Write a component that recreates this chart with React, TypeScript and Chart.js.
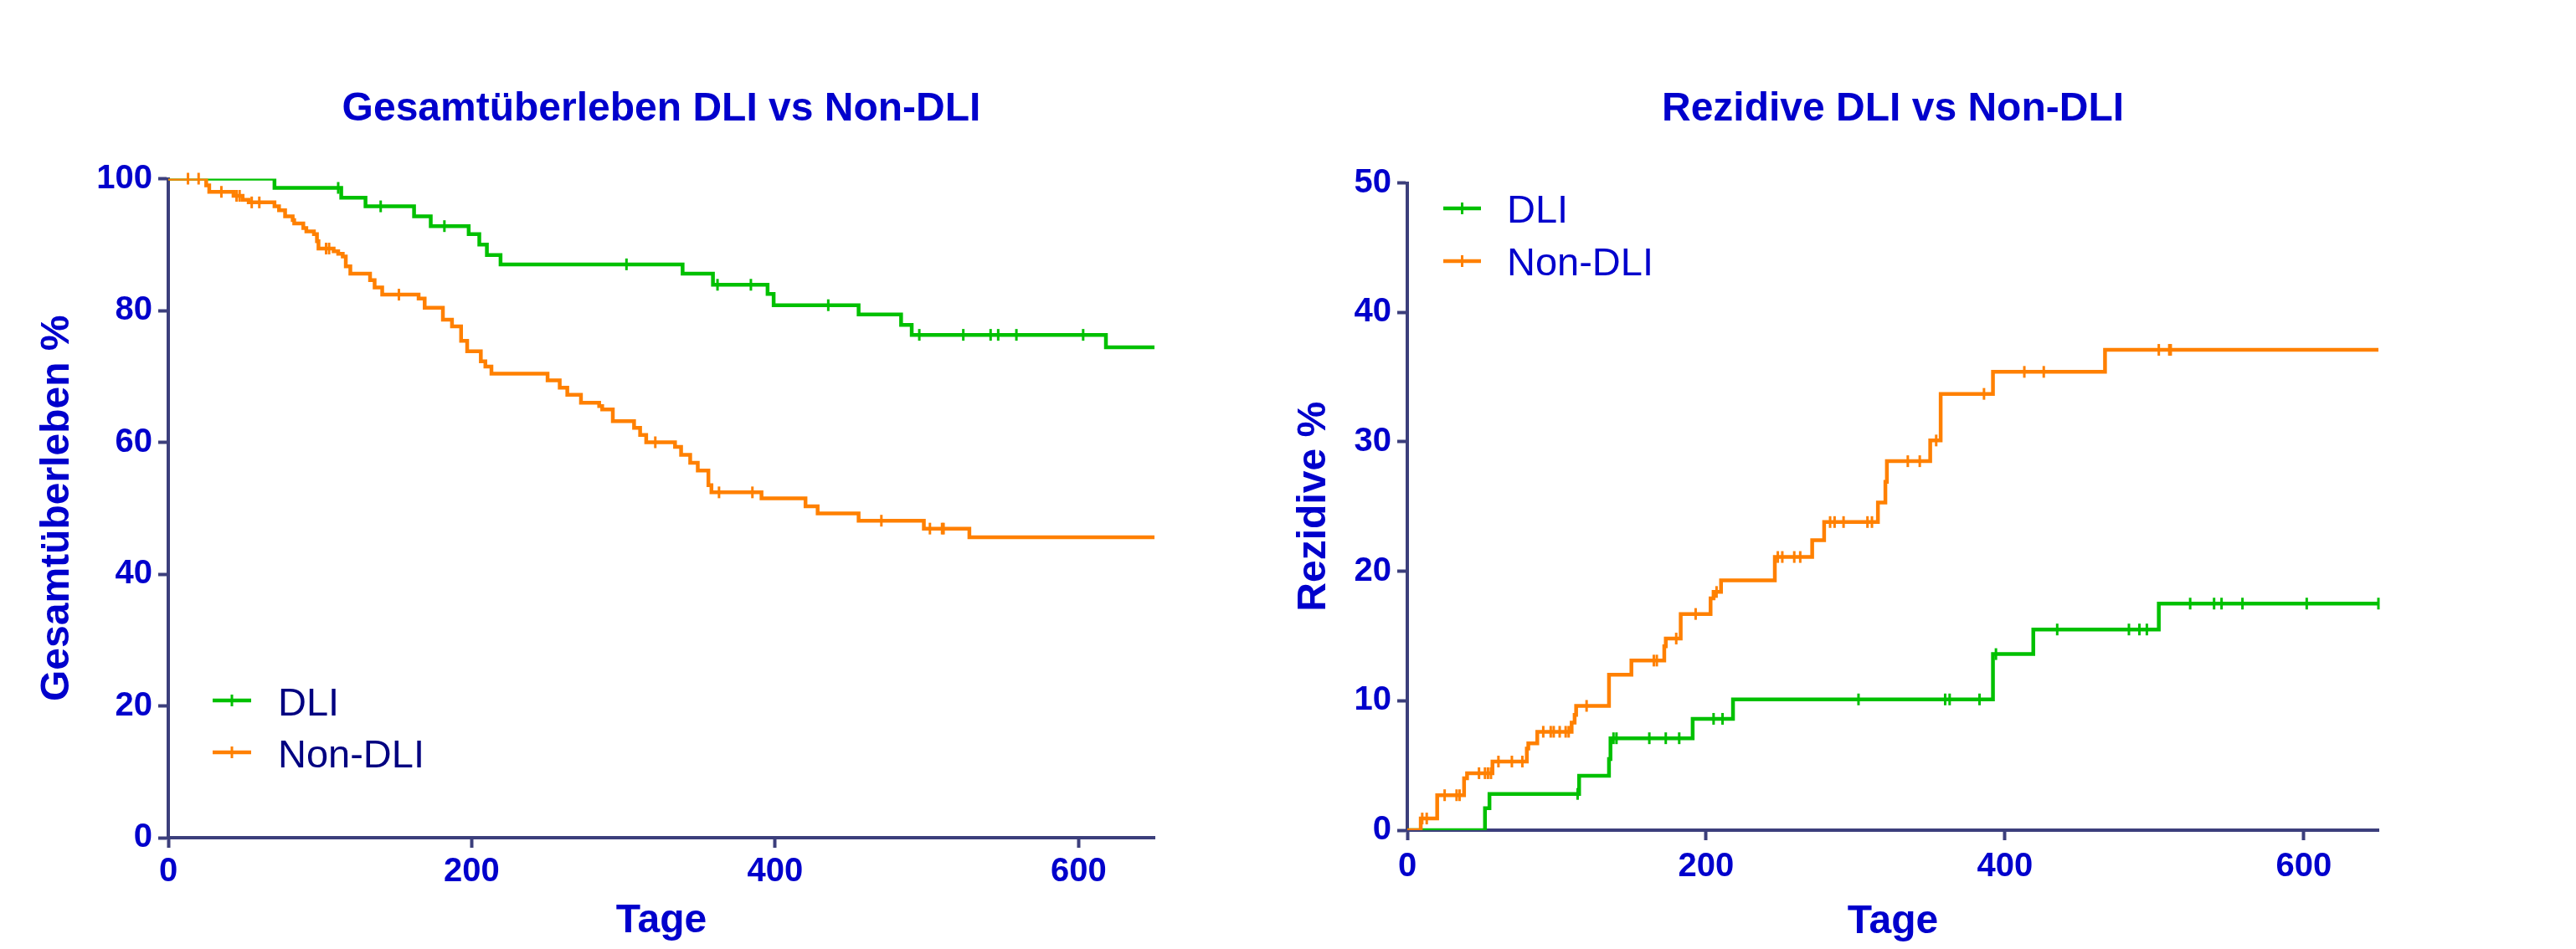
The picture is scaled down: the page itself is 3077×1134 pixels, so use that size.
import React, { useEffect, useRef } from 'react';
import { Chart, registerables } from 'chart.js';

Chart.register(...registerables);

// ---------------- data ----------------
const dayTicks = [0, 200, 400, 600];
const dayMax = 650;
const osPctTicks = [0, 20, 40, 60, 80, 100];
const relPctTicks = [0, 10, 20, 30, 40, 50];
const seriesNames = ['DLI', 'Non-DLI'];

// Gesamtüberleben (overall survival, %)
const osDliEventDays = [70, 114, 130, 162, 173, 198, 205, 210, 219, 339, 359, 395, 399, 455, 483, 490, 618];
const osDliSurvival = [98.6, 97.1, 95.8, 94.3, 92.8, 91.6, 90.0, 88.4, 87.0, 85.6, 83.9, 82.5, 80.8, 79.4, 77.8, 76.3, 74.4];
const osDliCensorDays = [112, 140, 182, 302, 362, 384, 435, 495, 524, 542, 547, 559, 603];

const osNonEventDays = [25, 27, 43, 49, 53, 70, 73, 77, 82, 83, 89, 91, 96, 98, 99, 109, 112, 115, 117, 120, 133, 136, 141, 165, 169, 181, 187, 193, 197, 206, 209, 213, 250, 258, 263, 272, 284, 286, 293, 307, 311, 315, 334, 338, 344, 349, 356, 358, 391, 420, 428, 455, 498, 528];
const osNonSurvival = [99.0, 98.0, 97.4, 96.8, 96.4, 95.8, 95.2, 94.3, 93.7, 93.2, 92.5, 92.0, 91.6, 90.5, 89.4, 89.0, 88.6, 88.2, 86.7, 85.6, 84.6, 83.5, 82.4, 81.8, 80.4, 78.6, 77.6, 75.4, 73.8, 72.3, 71.5, 70.4, 69.4, 68.3, 67.2, 66.0, 65.5, 65.0, 63.2, 62.2, 61.1, 60.0, 59.3, 58.1, 56.9, 55.7, 53.5, 52.4, 51.5, 50.3, 49.2, 48.1, 46.9, 45.6];
const osNonCensorDays = [13, 20, 35, 45, 47, 55, 60, 104, 106, 152, 321, 363, 385, 470, 502, 510, 511];

// Rezidive (cumulative relapse, %)
const relDliEventDays = [52, 55, 115, 135, 136, 191, 218, 392, 419, 503];
const relDliIncidence = [1.7, 2.8, 4.2, 5.5, 7.1, 8.6, 10.1, 13.6, 15.5, 17.5];
const relDliCensorDays = [114, 138, 140, 162, 173, 182, 205, 211, 302, 360, 363, 383, 394, 435, 483, 490, 495, 524, 540, 545, 559, 602, 650];

const relNonEventDays = [9, 20, 38, 40, 57, 80, 81, 87, 110, 112, 113, 135, 150, 172, 173, 183, 203, 205, 210, 246, 271, 279, 315, 320, 321, 350, 357, 392, 467];
const relNonIncidence = [0.9, 2.7, 4.0, 4.4, 5.3, 6.3, 6.7, 7.6, 8.3, 8.9, 9.6, 12.0, 13.1, 14.2, 14.8, 16.7, 17.9, 18.4, 19.3, 21.1, 22.4, 23.8, 25.3, 26.9, 28.5, 30.1, 33.7, 35.4, 37.1];
const relNonCensorDays = [10, 13, 25, 33, 35, 48, 52, 54, 56, 61, 70, 77, 91, 96, 98, 102, 106, 108, 120, 165, 167, 180, 193, 207, 248, 251, 259, 263, 283, 286, 292, 308, 311, 335, 343, 354, 386, 413, 426, 503, 510, 511];

// ---------------- styles ----------------
const GREEN = '#00C000';
const ORANGE = '#FF8000';
const BLUE = '#0000CC';
const NAVY = '#000080';
const AXIS = '#3C3F7C';
const FONT = "'Liberation Sans', Arial, sans-serif";

type Curve = { label: string; color: string; start: number; days: number[]; vals: number[]; censor: number[] };

function stepPoints(c: Curve) {
  const pts = [{ x: 0, y: c.start }];
  c.days.forEach((d, i) => pts.push({ x: d, y: c.vals[i] }));
  pts.push({ x: dayMax, y: c.vals[c.vals.length - 1] });
  return pts;
}
function valueAt(c: Curve, t: number) {
  let v = c.start;
  c.days.forEach((d, i) => {
    if (d <= t) v = c.vals[i];
  });
  return v;
}

const censorLegend = {
  id: 'censorLegend',
  afterDraw(chart: any, _args: any, o: any) {
    const ctx = chart.ctx;
    const items = chart.data.datasets.filter((d: any) => d.isCurve);
    const ordered = seriesNames.map((n) => items.find((d: any) => d.label === n)).filter(Boolean);
    ctx.save();
    ordered.forEach((ds: any, i: number) => {
      const y = o.y + i * o.gap;
      ctx.strokeStyle = ds.borderColor;
      ctx.lineWidth = 4.5;
      ctx.beginPath();
      ctx.moveTo(o.x, y);
      ctx.lineTo(o.x + o.len, y);
      ctx.stroke();
      ctx.lineWidth = 3;
      ctx.beginPath();
      ctx.moveTo(o.x + o.len / 2, y - 7);
      ctx.lineTo(o.x + o.len / 2, y + 7);
      ctx.stroke();
      ctx.fillStyle = o.color;
      ctx.font = `normal ${o.size}px ${FONT}`;
      ctx.textAlign = 'left';
      ctx.textBaseline = 'alphabetic';
      ctx.fillText(ds.label, o.textX, y + o.base);
    });
    ctx.restore();
  },
};

type Layout = {
  yAxisW: number;
  xAxisH: number;
  padRight: number;
  titlePadTop: number;
  titlePadBottom: number;
  yTitlePad: number;
  xTitlePad: number;
  xTickPad: number;
  legend: any;
};

function buildConfig(curves: Curve[], yMax: number, yTicks: number[], yTitle: string, title: string, L: Layout): any {
  const datasets: any[] = [];
  curves.forEach((c) => {
    datasets.push({
      label: c.label,
      isCurve: true,
      data: stepPoints(c),
      stepped: true,
      borderColor: c.color,
      borderWidth: 4.5,
      pointRadius: 0,
      fill: false,
    });
    datasets.push({
      label: c.label + ' zensiert',
      data: c.censor.map((d) => ({ x: d, y: valueAt(c, d) })),
      showLine: false,
      pointStyle: 'line',
      rotation: 90,
      pointRadius: 7,
      pointHoverRadius: 7,
      pointBorderWidth: 3,
      pointBorderColor: c.color,
      borderColor: c.color,
      clip: false,
    });
  });
  const tickFont = { family: FONT, size: 40, weight: 'bold' as const };
  const titleFont = { family: FONT, size: 48, weight: 'bold' as const };
  return {
    type: 'line',
    data: { datasets },
    plugins: [censorLegend],
    options: {
      responsive: false,
      animation: false,
      devicePixelRatio: 1,
      events: [],
      layout: { padding: { left: 0, right: L.padRight, top: 0, bottom: 0 } },
      plugins: {
        legend: { display: false },
        tooltip: { enabled: false },
        title: {
          display: true,
          text: title,
          color: BLUE,
          font: titleFont,
          fullSize: false,
          padding: { top: L.titlePadTop, bottom: L.titlePadBottom },
        },
        censorLegend: L.legend,
      },
      scales: {
        x: {
          type: 'linear',
          min: 0,
          max: dayMax,
          afterBuildTicks: (s: any) => {
            s.ticks = dayTicks.map((v) => ({ value: v }));
          },
          afterFit: (s: any) => {
            s.height = L.xAxisH;
          },
          ticks: { color: BLUE, font: tickFont, padding: L.xTickPad, maxRotation: 0 },
          grid: { display: true, drawOnChartArea: false, drawTicks: true, tickLength: 12, tickColor: AXIS, tickWidth: 4 },
          border: { display: true, color: AXIS, width: 4 },
          title: { display: true, text: 'Tage', color: BLUE, font: titleFont, padding: { top: 0, bottom: L.xTitlePad } },
        },
        y: {
          type: 'linear',
          min: 0,
          max: yMax,
          afterBuildTicks: (s: any) => {
            s.ticks = yTicks.map((v) => ({ value: v }));
          },
          afterFit: (s: any) => {
            s.width = L.yAxisW;
          },
          ticks: { color: BLUE, font: tickFont, padding: 7 },
          grid: { display: true, drawOnChartArea: false, drawTicks: true, tickLength: 12, tickColor: AXIS, tickWidth: 4 },
          border: { display: true, color: AXIS, width: 4 },
          title: { display: true, text: yTitle, color: BLUE, font: titleFont, padding: { top: L.yTitlePad, bottom: 0 } },
        },
      },
    },
  };
}

function KMChart(props: { width: number; left: number; config: any }) {
  const ref = useRef<HTMLCanvasElement | null>(null);
  useEffect(() => {
    if (!ref.current) return;
    const chart = new Chart(ref.current, props.config);
    return () => chart.destroy();
  }, []);
  return (
    <canvas
      ref={ref}
      width={props.width}
      height={1134}
      style={{ position: 'absolute', left: props.left, top: 0, width: props.width, height: 1134 }}
    />
  );
}

const osCurves: Curve[] = [
  { label: seriesNames[1], color: ORANGE, start: 100, days: osNonEventDays, vals: osNonSurvival, censor: osNonCensorDays },
  { label: seriesNames[0], color: GREEN, start: 100, days: osDliEventDays, vals: osDliSurvival, censor: osDliCensorDays },
];
const relCurves: Curve[] = [
  { label: seriesNames[1], color: ORANGE, start: 0, days: relNonEventDays, vals: relNonIncidence, censor: relNonCensorDays },
  { label: seriesNames[0], color: GREEN, start: 0, days: relDliEventDays, vals: relDliIncidence, censor: relDliCensorDays },
];

const leftConfig = buildConfig(osCurves, 100, osPctTicks, 'Gesamtüberleben %', 'Gesamtüberleben DLI vs Non-DLI', {
  yAxisW: 201,
  xAxisH: 133,
  padRight: 101,
  titlePadTop: 102.2,
  titlePadBottom: 53.7,
  yTitlePad: 40,
  xTitlePad: 4.7,
  xTickPad: 5,
  legend: { x: 254, len: 46, y: 837, gap: 62, textX: 332, base: 18, size: 47, color: NAVY },
});
const rightConfig = buildConfig(relCurves, 50, relPctTicks, 'Rezidive %', 'Rezidive DLI vs Non-DLI', {
  yAxisW: 201,
  xAxisH: 142,
  padRight: 236,
  titlePadTop: 101.7,
  titlePadBottom: 59.2,
  yTitlePad: 61,
  xTitlePad: 3.2,
  xTickPad: 8,
  legend: { x: 244, len: 45, y: 249, gap: 63, textX: 320, base: 17, size: 47, color: BLUE },
});

export default function App() {
  return (
    <div style={{ position: 'absolute', left: 0, top: 0, width: 3077, height: 1134, background: '#ffffff' }}>
      <KMChart width={1480} left={0} config={leftConfig} />
      <KMChart width={1597} left={1480} config={rightConfig} />
    </div>
  );
}
